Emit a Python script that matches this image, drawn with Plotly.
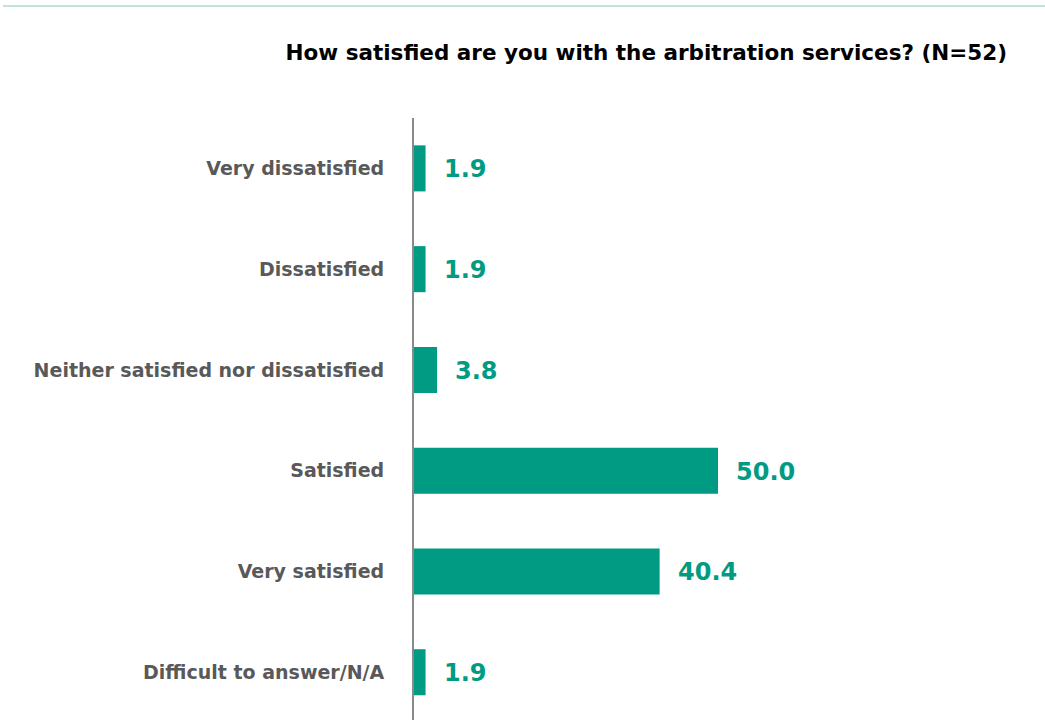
import plotly.graph_objects as go

categories = [
    "Very dissatisfied",
    "Dissatisfied",
    "Neither satisfied nor dissatisfied",
    "Satisfied",
    "Very satisfied",
    "Difficult to answer/N/A",
]
values = [1.9, 1.9, 3.8, 50.0, 40.4, 1.9]
title_text = "How satisfied are you with the arbitration services? (N=52)"

W, H = 1045, 720
ML, MR, MT, MB = 414, 23, 118, 0
TEAL = "#009b82"
LABEL_GREY = "#595959"

fig = go.Figure(
    go.Bar(
        y=categories,
        x=values,
        orientation="h",
        width=0.457,
        marker=dict(color=TEAL, line=dict(width=0)),
        hoverinfo="skip",
    )
)

# value labels placed just past each bar end
for cat, val in zip(categories, values):
    fig.add_annotation(
        x=val, y=cat, xref="x", yref="y",
        text=f"{val:.1f}", showarrow=False,
        xanchor="left", yanchor="middle", xshift=16, yshift=-1,
        font=dict(family="DejaVu Sans", size=24, color=TEAL, weight="bold"),
    )

plot_w = W - ML - MR
plot_h = H - MT - MB

# thin accent rule across the top of the page
fig.add_shape(
    type="line", xref="paper", yref="paper",
    x0=(3 - ML) / plot_w, x1=(W - ML) / plot_w,
    y0=1 + (MT - 6) / plot_h, y1=1 + (MT - 6) / plot_h,
    line=dict(color="#c0e4da", width=2),
)

fig.update_layout(
    width=W, height=H,
    margin=dict(l=ML, r=MR, t=MT, b=MB, pad=0),
    paper_bgcolor="white", plot_bgcolor="white",
    showlegend=False,
    title=dict(
        text=title_text,
        xref="container", yref="container",
        x=1007 / W, xanchor="right",
        y=1 - 52 / H, yanchor="middle",
        font=dict(family="DejaVu Sans", size=21.5, color="#000000", weight="bold"),
    ),
    xaxis=dict(
        range=[0, 100], visible=False, fixedrange=True,
    ),
    yaxis=dict(
        range=[5.474, -0.5],
        showline=True, linecolor="#8a8a8a", linewidth=2,
        showgrid=False, zeroline=False, ticks="",
        ticklabelstandoff=24,
        tickfont=dict(family="DejaVu Sans", size=19, color=LABEL_GREY, weight="bold"),
        fixedrange=True,
    ),
)

fig.write_html("out.html")
